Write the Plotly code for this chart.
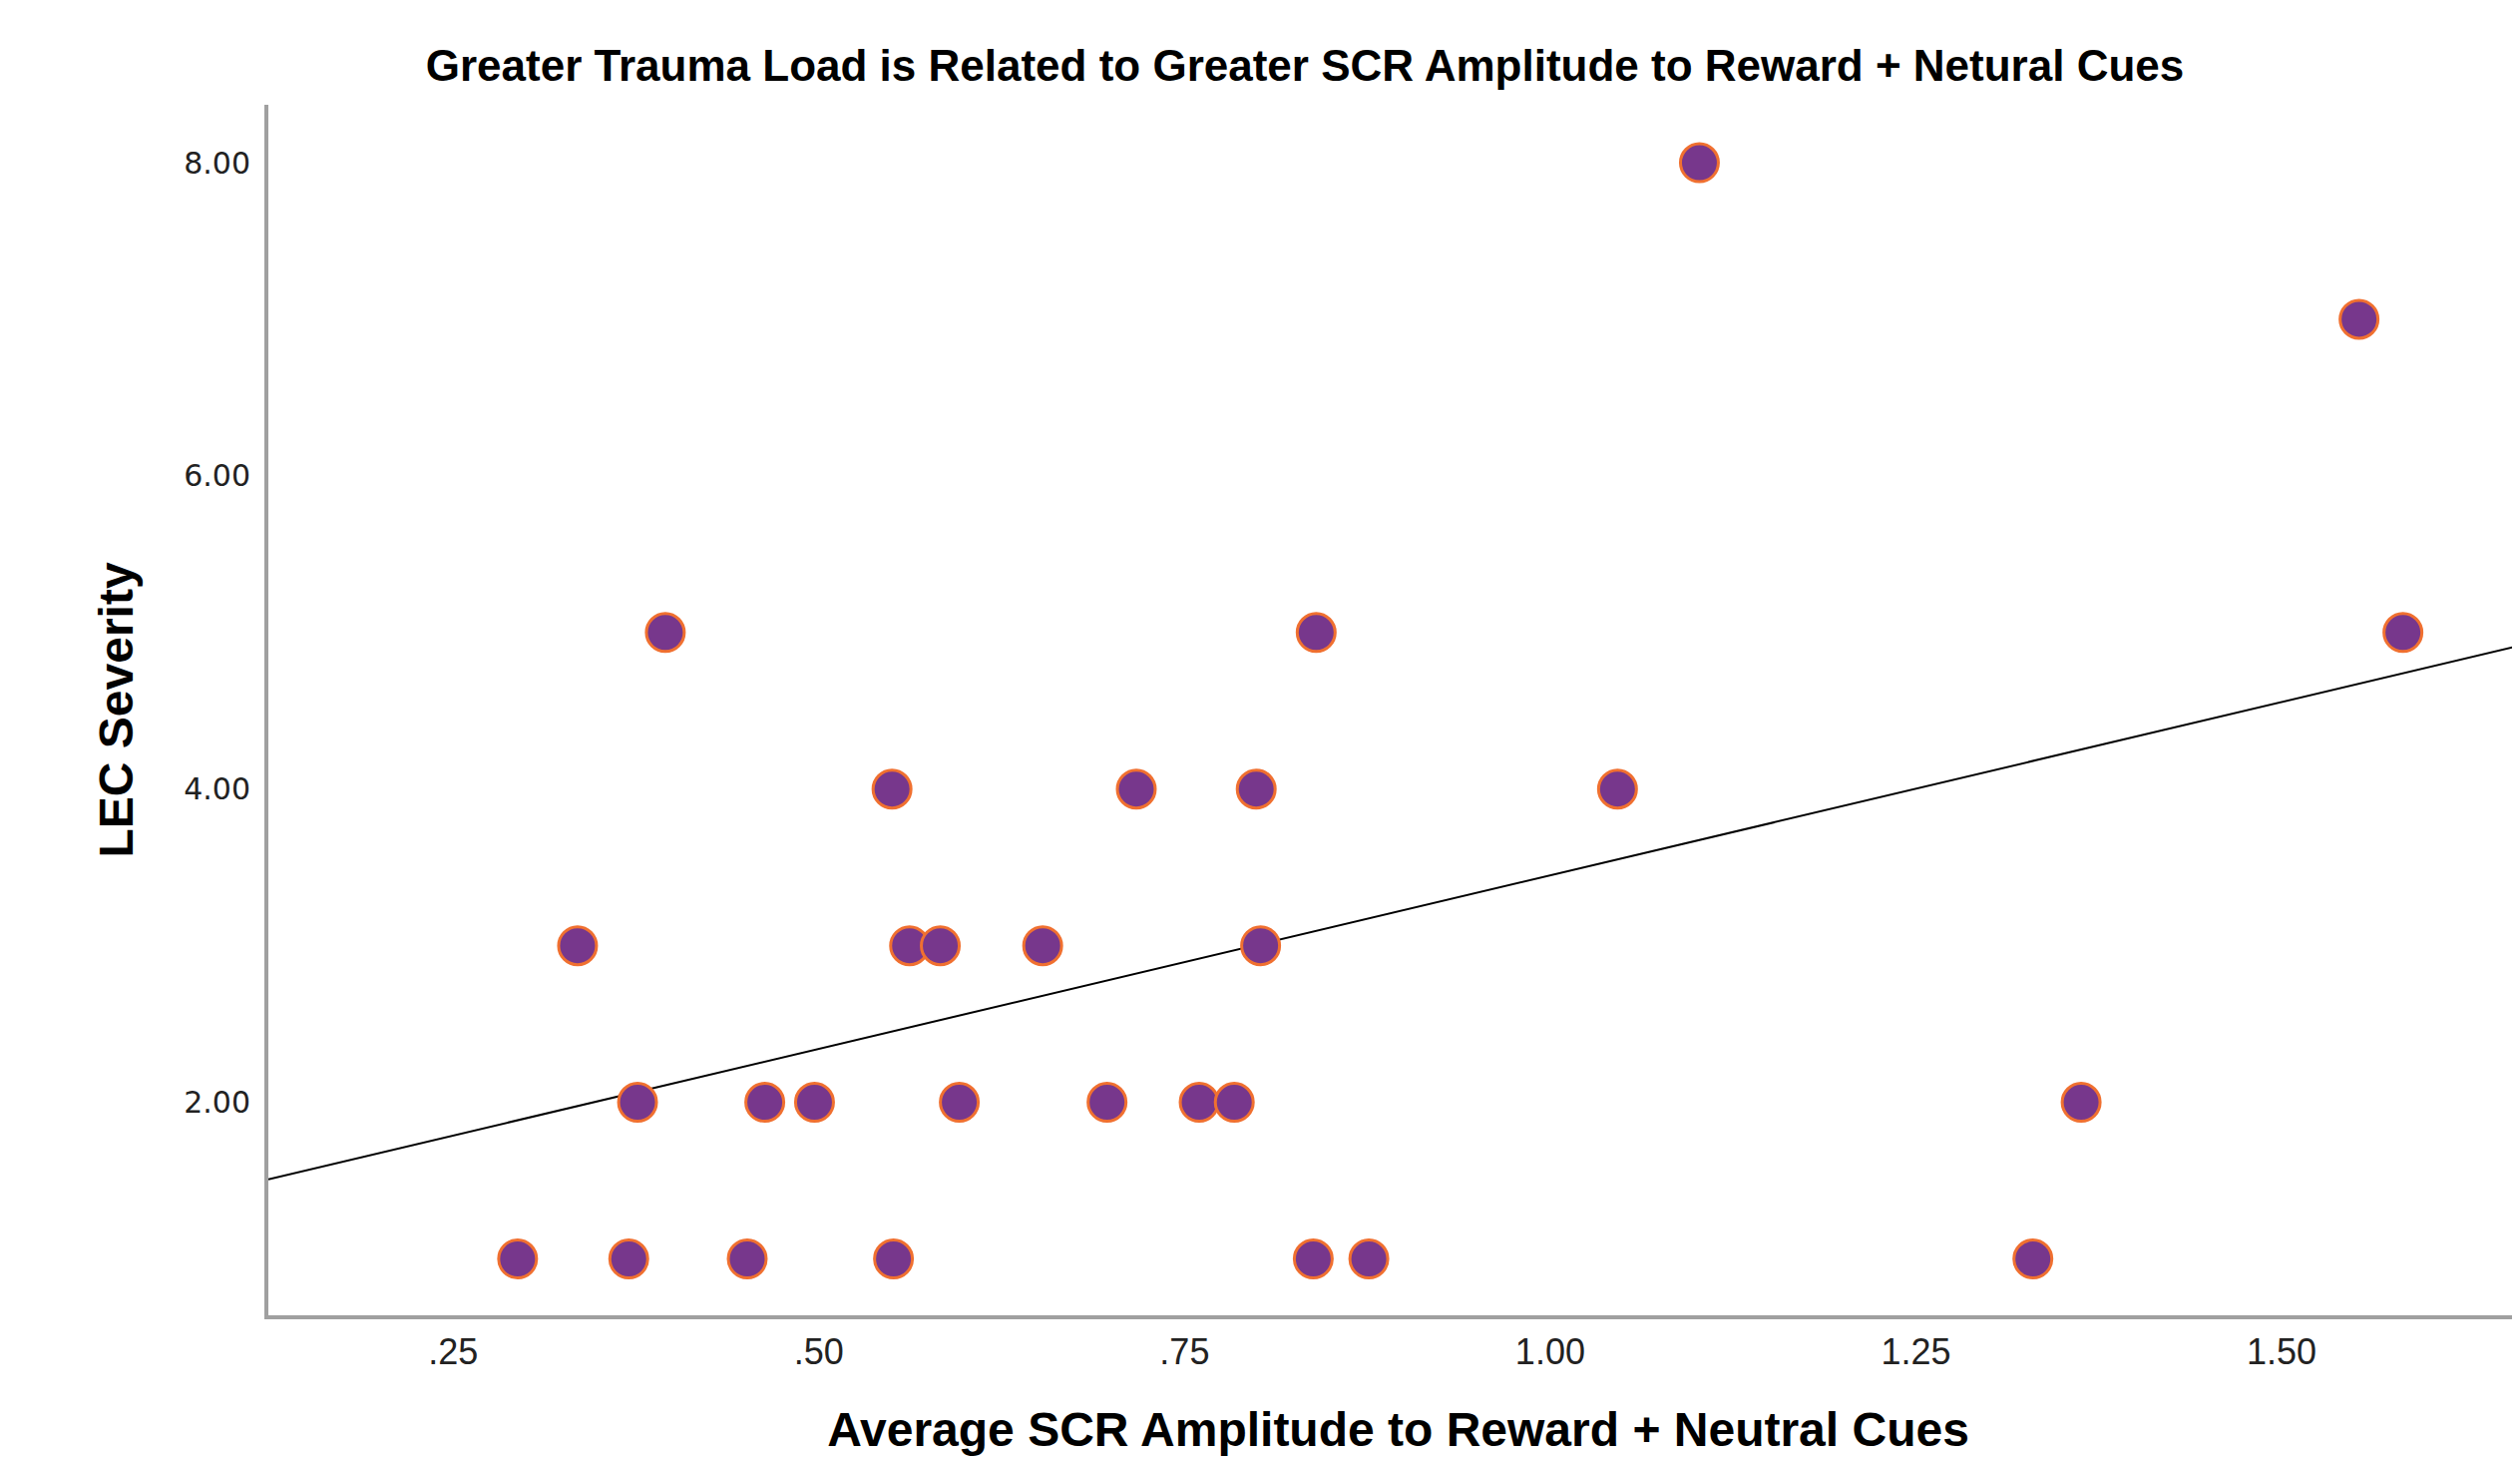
import numpy as np
import plotly.graph_objects as go

# Data
scr_amplitude = [1.102, 1.553,
                 0.395, 0.840, 1.583,
                 0.550, 0.717, 0.799, 1.046,
                 0.335, 0.562, 0.583, 0.653, 0.802,
                 0.376, 0.463, 0.497, 0.596, 0.697, 0.760, 0.784, 1.363,
                 0.294, 0.370, 0.451, 0.551, 0.838, 0.876, 1.330]
lec_severity = [8, 7,
                5, 5, 5,
                4, 4, 4, 4,
                3, 3, 3, 3, 3,
                2, 2, 2, 2, 2, 2, 2, 2,
                1, 1, 1, 1, 1, 1, 1]

x_tick_vals = [0.25, 0.50, 0.75, 1.00, 1.25, 1.50]
x_tick_text = [".25", ".50", ".75", "1.00", "1.25", "1.50"]
y_tick_vals = [2, 4, 6, 8]
y_tick_text = ["2.00", "4.00", "6.00", "8.00"]

x_range = [0.1236, 1.6685]
y_range = [0.64, 8.37]

# Linear fit line (least squares)
slope, intercept = np.polyfit(scr_amplitude, lec_severity, 1)
fit_x = np.array(x_range)
fit_y = intercept + slope * fit_x

fig = go.Figure()
fig.add_trace(go.Scatter(
    x=fit_x, y=fit_y, mode="lines",
    line=dict(color="black", width=2), showlegend=False, hoverinfo="skip"))
fig.add_trace(go.Scatter(
    x=scr_amplitude, y=lec_severity, mode="markers",
    marker=dict(size=38, color="#77378C", line=dict(color="#F07030", width=3)),
    showlegend=False))

H = 1461
fig.update_layout(
    width=2526, height=H,
    paper_bgcolor="white", plot_bgcolor="white",
    margin=dict(l=261, r=0, t=97, b=151),
    title=dict(text="<b>Greater Trauma Load is Related to Greater SCR Amplitude to Reward + Netural Cues</b>",
               font=dict(family="Liberation Sans", size=44, color="black"),
               x=(1300 - 261) / 2265, xanchor="center", xref="paper",
               y=1 - 58 / H, yref="container", yanchor="middle"),
    xaxis=dict(range=x_range, tickvals=x_tick_vals, ticktext=x_tick_text,
               showgrid=False, zeroline=False, showline=True, linecolor="#a0a0a0", linewidth=4,
               ticks="", tickfont=dict(family="Liberation Sans", size=36, color="#222"),
               ticklabelstandoff=2,
               title=dict(text="<b>Average SCR Amplitude to Reward + Neutral Cues</b>",
                          font=dict(family="Liberation Sans", size=48, color="black"), standoff=42)),
    yaxis=dict(range=y_range, tickvals=y_tick_vals, ticktext=y_tick_text,
               showgrid=False, zeroline=False, showline=True, linecolor="#a0a0a0", linewidth=4,
               ticks="", tickfont=dict(family="DejaVu Sans", size=30, color="#222"),
               ticklabelstandoff=8,
               title=dict(text="<b>LEC Severity</b>",
                          font=dict(family="Liberation Sans", size=48, color="black"), standoff=36)),
)

fig.write_html("out.html")
